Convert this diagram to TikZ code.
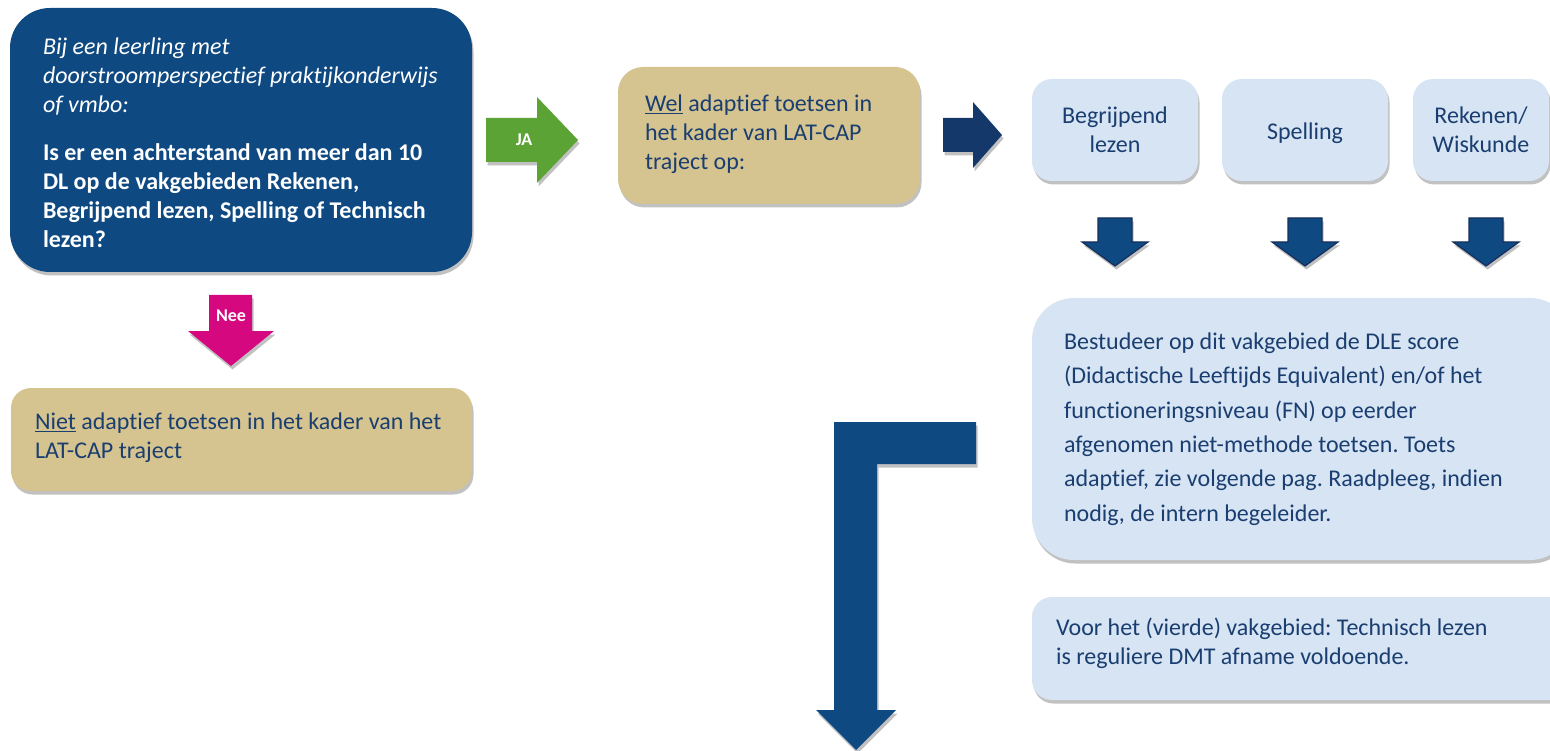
\documentclass[tikz,border=0pt]{standalone}
\usepackage{fontspec}
\setmainfont{Carlito}[Ligatures=NoCommon]
\usetikzlibrary{positioning,shadows}
\frenchspacing

\definecolor{vraagblauw}{RGB}{14,73,130}
\definecolor{zand}{RGB}{213,196,143}
\definecolor{lichtblauw}{RGB}{214,228,244}
\definecolor{tekstblauw}{RGB}{26,62,112}
\definecolor{jagroen}{RGB}{90,163,52}
\definecolor{neeroze}{RGB}{214,8,128}
\definecolor{pijlblauw}{RGB}{20,56,106}
\definecolor{randblauw}{RGB}{22,46,92}

\tikzset{
  schaduw/.style={drop shadow={shadow xshift=1.5pt,shadow yshift=-3.5pt,opacity=0.35,fill=black!70}},
  kader/.style={rounded corners=#1,inner sep=0pt,schaduw},
  tekst/.style={inner sep=0pt,align=left,text=tekstblauw,font=\fontsize{24}{29}\selectfont},
  vak/.style={kader=20pt,fill=lichtblauw,minimum width=166pt,minimum height=102pt,
    align=center,text=tekstblauw,font=\fontsize{24}{29}\selectfont},
  pijltje/.style={fill=vraagblauw,draw=randblauw,line width=1.2pt,line join=miter,schaduw}
}

\begin{document}
\begin{tikzpicture}[x=1pt,y=-1pt]
    \useasboundingbox (0,0) rectangle (1550,751);
    % vraag
    \node[kader=40pt,fill=vraagblauw,minimum width=462pt,minimum height=264pt] (vraag) at (241,140) {};
    \node[tekst,text=white,anchor=west] (vraagtekst) at ([xshift=33pt,yshift=-3pt]vraag.west)
        {\textit{Bij een leerling met}\\ \textit{doorstroomperspectief praktijkonderwijs}\\ \textit{of vmbo:}\\[19pt]
         \textbf{Is er een achterstand van meer dan 10}\\ \textbf{DL op de vakgebieden Rekenen,}\\
         \textbf{Begrijpend lezen, Spelling of Technisch}\\ \textbf{lezen?}};
    % ja
    \fill[jagroen,schaduw] (486,118) -- (537,118) -- (537,97) -- (578,140) -- (537,183) -- (537,162) -- (486,162) -- cycle;
    \node[text=white,font=\fontsize{18}{21}\selectfont\bfseries] (ja) at (524,140) {JA};
    \node[kader=25pt,fill=zand,minimum width=302pt,minimum height=137pt] (wel) at (769,135.5) {};
    \node[tekst,anchor=west] (weltekst) at ([xshift=27pt,yshift=1pt]wel.west)
        {\underline{Wel} adaptief toetsen in\\ het kader van LAT-CAP\\ traject op:};
    \fill[pijlblauw,schaduw] (943,118) -- (973,118) -- (973,102) -- (1002,135) -- (973,168) -- (973,152) -- (943,152) -- cycle;
    % vakgebieden
    \node[vak] (begrijpend) at (1115,130) {Begrijpend\\ lezen};
    \node[vak] (spelling) at (1305,130) {};
    \node[text=tekstblauw,font=\fontsize{24}{29}\selectfont] (spellingtekst) at (1305,133) {Spelling};
    \node[vak,minimum width=136pt] (rekenen) at (1481,130) {Rekenen/\\ Wiskunde};
    \foreach \x in {1115,1305,1486}
        \filldraw[pijltje] (\x-17,218) -- (\x+17,218) -- (\x+17,242) -- (\x+33,242) -- (\x,266) -- (\x-33,242) -- (\x-17,242) -- cycle;
    % nee
    \fill[neeroze,schaduw] (209,295) -- (252,295) -- (252,331) -- (274,331) -- (231,366) -- (188,331) -- (209,331) -- cycle;
    \node[text=white,font=\fontsize{18}{21}\selectfont\bfseries] (nee) at (231,316) {Nee};
    \node[kader=20pt,fill=zand,minimum width=461pt,minimum height=103pt] (niet) at (241.5,439.5) {};
    \node[tekst,anchor=west] (niettekst) at ([xshift=24pt,yshift=2pt]niet.west)
        {\underline{Niet} adaptief toetsen in het kader van het\\ LAT-CAP traject};
    % bestudeer
    \node[kader=42pt,fill=lichtblauw,minimum width=540pt,minimum height=262pt] (dle) at (1302,429) {};
    \node[tekst,anchor=west,font=\fontsize{24}{34.4}\selectfont] (dletekst) at ([xshift=32pt]dle.west)
        {Bestudeer op dit vakgebied de DLE score\\ (Didactische Leeftijds Equivalent) en/of het\\
         functioneringsniveau (FN) op eerder\\ afgenomen niet-methode toetsen. Toets\\
         adaptief, zie volgende pag. Raadpleeg, indien\\ nodig, de intern begeleider.};
    \node[kader=20pt,fill=lichtblauw,minimum width=540pt,minimum height=103pt] (voor) at (1302,648.5) {};
    \node[tekst,anchor=west] (voortekst) at ([xshift=24pt,yshift=5pt]voor.west)
        {Voor het (vierde) vakgebied: Technisch lezen\\ is reguliere DMT afname voldoende.};
    % lange pijl
    \fill[vraagblauw,schaduw] (834,422) -- (976,422) -- (976,464) -- (877,464) -- (877,710) -- (896,710) -- (856,750) -- (816,710) -- (834,710) -- cycle;
\end{tikzpicture}
\end{document}
